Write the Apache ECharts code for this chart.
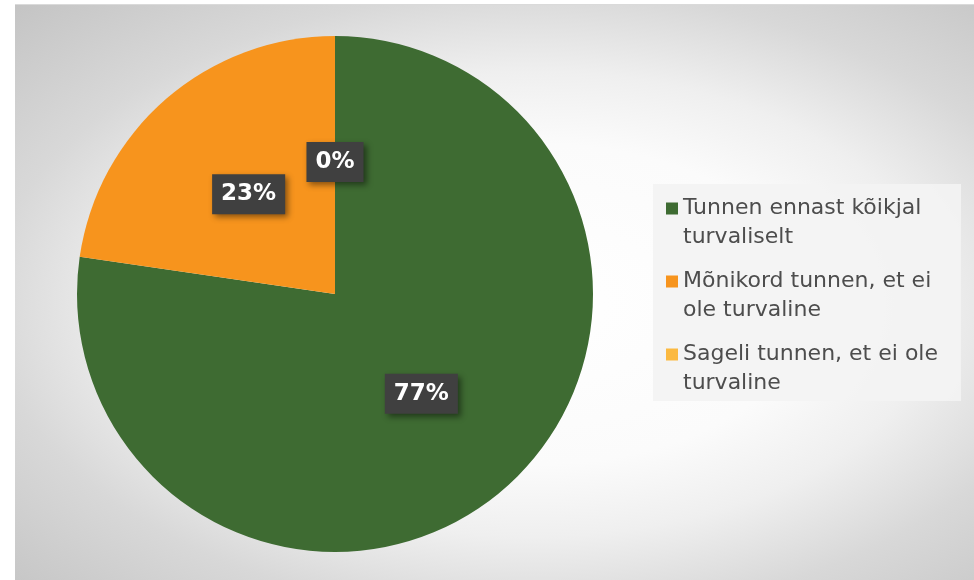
<!DOCTYPE html>
<html>
<head>
<meta charset="utf-8">
<script src="https://cdn.jsdelivr.net/npm/echarts@6/dist/echarts.min.js"></script>
<style>
  html, body { margin: 0; padding: 0; background: #ffffff; }
  #frame {
    position: absolute; left: 15px; top: 4px; width: 959px; height: 576px;
    border-top: 1px solid #dadada; box-sizing: border-box;
    background: radial-gradient(ellipse farthest-corner at 54% 52%, #ffffff 0%, #fbfbfb 38%, #efefef 55%, #d8d8d8 74%, #c4c4c4 100%);
  }
  #chart { position: absolute; left: 0; top: 0; width: 959px; height: 576px; }
</style>
</head>
<body>
<div id="frame"><div id="chart"></div></div>
<script>
const categories = [
  'Tunnen ennast kõikjal turvaliselt',
  'Mõnikord tunnen, et ei ole turvaline',
  'Sageli tunnen, et ei ole turvaline'
];
const values = [77.3, 22.7, 0];
const colors = ['#3e6b32', '#f7941d', '#fbb940'];
const legendLines = {
  'Tunnen ennast kõikjal turvaliselt': 'Tunnen ennast kõikjal\nturvaliselt',
  'Mõnikord tunnen, et ei ole turvaline': 'Mõnikord tunnen, et ei\nole turvaline',
  'Sageli tunnen, et ei ole turvaline': 'Sageli tunnen, et ei ole\nturvaline'
};

const chart = echarts.init(document.getElementById('chart'), null, { renderer: 'canvas' });
const LH = 29;
const H = LH * 2;
const iconTop = LH / 2 - 6;
const iconPath = 'path://M0,0L0.001,0M0,' + iconTop + 'h12v12h-12zM0,' + H + 'L0.001,' + H;

chart.setOption({
  animation: false,
  backgroundColor: 'transparent',
  color: colors,
  legend: {
    orient: 'vertical',
    left: 638,
    top: 179,
    padding: [10, 23, 3, 13],
    backgroundColor: 'rgba(243,243,243,0.92)',
    itemWidth: 12,
    itemHeight: H,
    itemGap: 15,
    icon: iconPath,
    itemStyle: { borderWidth: 0 },
    selectedMode: false,
    formatter: name => legendLines[name] || name,
    textStyle: {
      fontFamily: 'DejaVu Sans',
      fontSize: 22,
      lineHeight: LH,
      color: '#4d4d4d'
    },
    data: categories
  },
  series: [{
    type: 'pie',
    center: [320, 289],
    radius: [0, 258],
    startAngle: 90,
    clockwise: true,
    avoidLabelOverlap: false,
    emphasis: { disabled: true },
    itemStyle: { borderWidth: 0 },
    label: {
      show: true,
      position: 'inside',
      formatter: p => Math.round(p.percent) + '%',
      fontFamily: 'DejaVu Sans',
      fontWeight: 'bold',
      fontSize: 23,
      lineHeight: 28,
      color: '#ffffff',
      backgroundColor: '#404040',
      padding: [6, 9, 6, 9],
      shadowColor: 'rgba(0,0,0,0.45)',
      shadowBlur: 6,
      shadowOffsetX: 3,
      shadowOffsetY: 3
    },
    labelLine: { show: false },
    data: categories.map((c, i) => ({ name: c, value: values[i] }))
  }]
});
</script>
</body>
</html>
